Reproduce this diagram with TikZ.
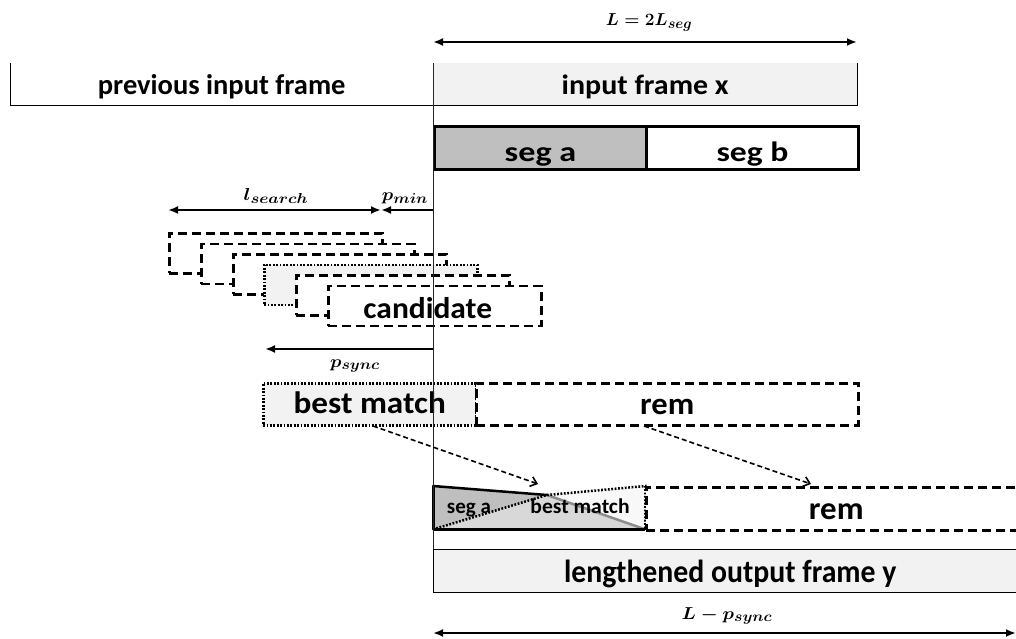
\documentclass[tikz,border=0pt]{standalone}
\usepackage[no-math]{fontspec}
\usepackage{graphicx}
\setmainfont{Carlito}
\usetikzlibrary{arrows.meta}
\DeclareMathSizes{17}{17}{15}{12}
\definecolor{lightfill}{HTML}{F2F2F2}
\definecolor{segfill}{HTML}{BFBFBF}
\newcommand{\sx}[2]{\scalebox{#1}[1]{#2}}
\newcommand{\mlab}[2][1.1]{\scalebox{#1}[1]{\boldmath$#2$}}
\tikzset{
  box/.style={rectangle, inner sep=0pt, anchor=north west, text depth=0pt},
  tf/.style 2 args={font=\bfseries\fontsize{#1}{#1}\selectfont, text height=#2},
  thickbox/.style={box, draw, line width=3pt, minimum height=43pt, minimum width=212pt, tf={28}{27pt}},
  dashbox/.style={box, draw, line width=2.5pt, dash pattern=on 9pt off 5pt, fill=white, minimum width=213pt, minimum height=40pt},
  dotbox/.style={box, draw, line width=2.5pt, dash pattern=on 1.8pt off 1.6pt, fill=lightfill, minimum width=213pt, minimum height=40pt},
  thinline/.style={line width=0.9pt},
  dimarrow/.style={line width=2.2pt, -{Latex[length=10pt,width=8pt]}},
  dimboth/.style={line width=2.2pt, {Latex[length=10pt,width=8pt]}-{Latex[length=10pt,width=8pt]}},
  mathlabel/.style={font=\fontsize{17}{20}\selectfont, inner sep=0pt, anchor=base},
  moveto/.style={line width=1.6pt, dash pattern=on 5pt off 3pt, -{Straight Barb[length=6pt,width=10pt,line width=1.6pt]}},
  smalltext/.style={inner sep=0pt, anchor=base, font=\bfseries\fontsize{21}{22}\selectfont},
}
\begin{document}
\begin{tikzpicture}[x=1pt,y=-1pt]
\useasboundingbox (0,0) rectangle (1016,639);
\clip (0,0) rectangle (1016,639);

% top dimension
\coordinate (La) at (433,42);
\coordinate (Lb) at (857,42);
\draw[dimboth] (La) -- (Lb);
\node[mathlabel] (Llab) at (649,26) {\mlab[1.0]{L=2L_{seg}}};

% frames
\node[box, minimum width=423pt, minimum height=42pt, tf={28.5}{21pt}] (prev) at (10,63) {previous input frame};
\draw[thinline] (prev.north west) -- (prev.south west) -- (prev.south east);
\node[box, fill=lightfill, minimum width=424pt, minimum height=42pt, tf={28}{21pt}] (inx) at (433,63) {\sx{1.07}{input frame x}};
\draw[thinline] (inx.north east) -- (inx.south east) -- (inx.south west);

% segments
\node[thickbox, fill=segfill] (sega) at (433,125) {\sx{1.22}{seg a}};
\node[thickbox] (segb) at (645,125) {\sx{1.2}{seg b}};

% search dimensions
\coordinate (s1) at (168,210);
\coordinate (s2) at (381,210);
\coordinate (s3) at (433,210);
\draw[dimboth] (s1) -- (s2);
\draw[dimarrow] (s3) -- (s2);
\node[mathlabel] (lsearch) at (276,200) {\mlab[1.15]{l_{search}}};
\node[mathlabel] (pmin) at (405,200) {\mlab{p_{min}}};

% candidates
\node[dashbox] (c1) at (168,232) {};
\node[dashbox] (c2) at (200,242.5) {};
\node[dashbox] (c3) at (232,253) {};
\node[dotbox]  (c4) at (263,263.5) {};
\node[dashbox] (c5) at (295,274) {};
\node[dashbox, tf={30}{25pt}] (c6) at (327,284.5) {\sx{1.05}{candidate}\hspace*{14pt}};

% p_sync
\coordinate (ps0) at (433,349);
\coordinate (ps1) at (265,349);
\draw[dimarrow] (ps0) -- (ps1);
\node[mathlabel] (psync) at (355,367) {\mlab{p_{sync}}};

% best match + rem
\node[dotbox, minimum height=42pt, tf={31}{18pt}] (best) at (262,382) {\sx{1.07}{best match}};
\node[dashbox, minimum width=382pt, minimum height=42pt, tf={31}{20pt}] (rem1) at (475,382) {\sx{1.05}{rem}};

% crossfade block
\node[box, minimum width=212pt, minimum height=43pt] (xf) at (433,486) {};
\coordinate (xing) at (547,495);
\fill[segfill] (xf.north west) -- (xing) -- (xf.south east) -- (xf.south west) -- cycle;
\fill[lightfill, opacity=0.5] (xf.south west) -- (xing) -- (xf.north east) -- (xf.south east) -- cycle;
\draw[line width=2.5pt, line cap=round] (xf.north west) -- (xing);
\draw[line width=2.5pt, black!45] (xing) -- (xf.south east);
\draw[line width=3pt, line join=round] (xf.north west) -- (xf.south west) -- (xf.south east);
\draw[line width=2.5pt, dash pattern=on 1.8pt off 1.6pt] (xf.south west) -- (xing) -- (xf.north east) -- (xf.south east);
\node[smalltext] (xsega) at (469,513) {seg a};
\node[smalltext] (xbest) at (580,513) {\sx{1.03}{best match}};
\node[dashbox, minimum width=380pt, minimum height=43pt, tf={32}{21pt}] (rem2) at (645,486) {\sx{1.03}{rem}};

% output frame
\node[box, fill=lightfill, minimum width=594pt, minimum height=43pt, tf={32}{23pt}] (out) at (433,549) {\sx{0.93}{lengthened output frame y}};
\draw[thinline] (out.north east) -- (out.north west) -- (out.south west) -- (out.south east);

% vertical reference line
\draw[thinline, black!85] (inx.north west) -- (out.north west);

% moves
\coordinate (m1s) at (373,426);
\coordinate (m1e) at (538,484);
\coordinate (m2s) at (644,426);
\coordinate (m2e) at (811,484);
\draw[moveto] (m1s) -- (m1e);
\draw[moveto] (m2s) -- (m2e);

% bottom dimension
\coordinate (Ba) at (433,633);
\coordinate (Bb) at (1016,633);
\draw[dimboth] (Ba) -- (Bb);
\node[mathlabel] (Blab) at (727,619) {\mlab{L-p_{sync}}};
\end{tikzpicture}
\end{document}
